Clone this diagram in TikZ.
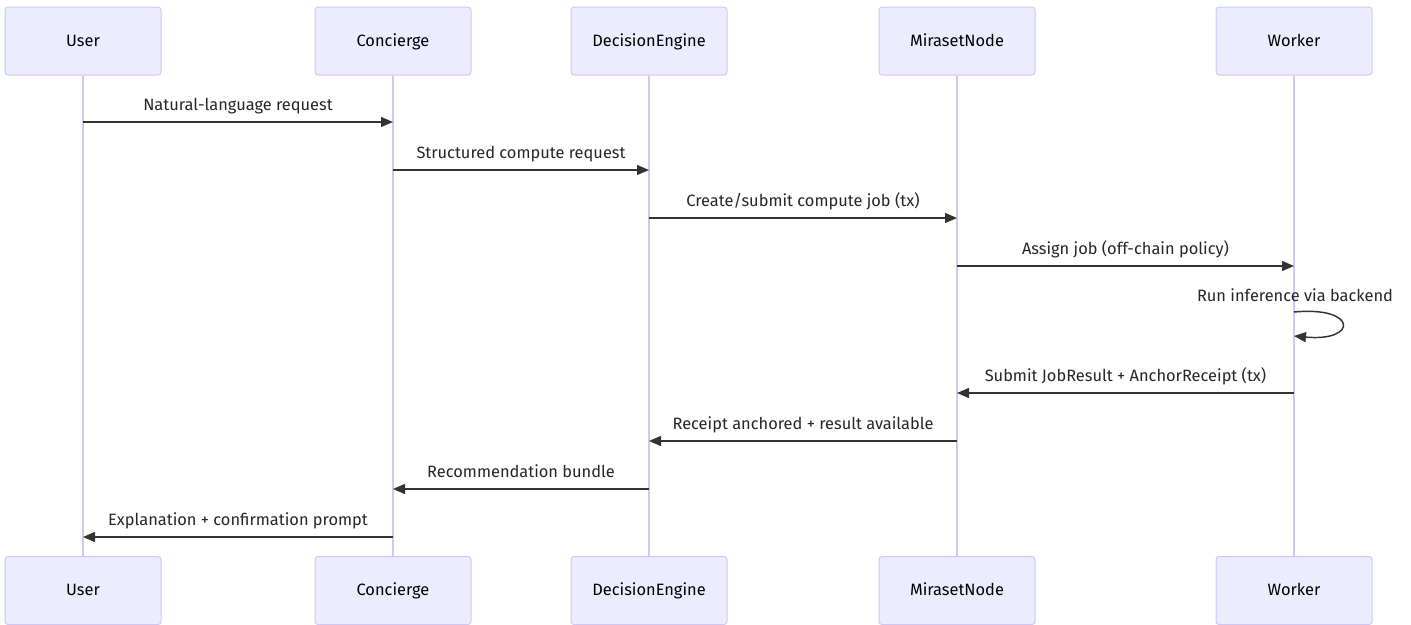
\documentclass[tikz,border=0pt]{standalone}
\usepackage{fontspec}
\setmainfont{Fira Sans}
\usetikzlibrary{arrows.meta}
\definecolor{actorfill}{HTML}{ECECFF}
\definecolor{actorline}{HTML}{CFC7F4}
\definecolor{msgline}{HTML}{333333}
\tikzset{
  actor/.style={draw=actorline, fill=actorfill, line width=0.75pt, rounded corners=2.25pt,
    minimum width=117pt, minimum height=51pt, inner sep=0pt, text height=10.6pt, text depth=2.4pt,
    font=\fontsize{12.3}{14}\selectfont},
  lifeline/.style={draw=actorline, line width=1.5pt},
  msg/.style={draw=msgline, line width=1.1pt, -{Triangle[length=9pt,width=7.5pt]}},
  msgtext/.style={font=\fontsize{12.3}{14}\selectfont, text=black!85, anchor=center,
    inner sep=0pt, text height=9.8pt, text depth=2.4pt},
  msglabel/.style={msgtext, yshift=12pt}
}
\begin{document}
\begin{tikzpicture}[x=0.75pt,y=-0.75pt]
\useasboundingbox (0,0) rectangle (1411,625);
% actors, top row and bottom row
\foreach \name/\x/\txt in {user/83/User, conc/393/Concierge, dec/649/DecisionEngine,
    mir/957/MirasetNode, work/1294/Worker}{
  \node[actor] (\name T) at (\x,41) {\txt};
  \node[actor] (\name B) at (\x,590.5) {\txt};
  \draw[lifeline] (\name T.south) -- (\name B.north);
}
% messages
\foreach \from/\to/\y/\txt in {
    user/conc/122/{Natural-language request},
    conc/dec/170/{Structured compute request},
    dec/mir/218/{Create/submit compute job (tx)},
    mir/work/266/{Assign job (off-chain policy)},
    work/mir/393/{Submit JobResult + AnchorReceipt (tx)},
    mir/dec/441/{Receipt anchored + result available},
    dec/conc/489/{Recommendation bundle},
    conc/user/537/{Explanation + confirmation prompt}}{
  \draw[msg] (\from T |- 0,\y) -- (\to T |- 0,\y) node[midway, msglabel] {\txt};
}
% self call on the worker
\coordinate (loopA) at (workT |- 0,312);
\coordinate (loopB) at (workT |- 0,336);
\draw[msg] (loopA) .. controls +(64,-6) and +(64,6) .. (loopB);
\node[msgtext] (loopT) at (1295,297) {Run inference via backend};
\end{tikzpicture}
\end{document}
